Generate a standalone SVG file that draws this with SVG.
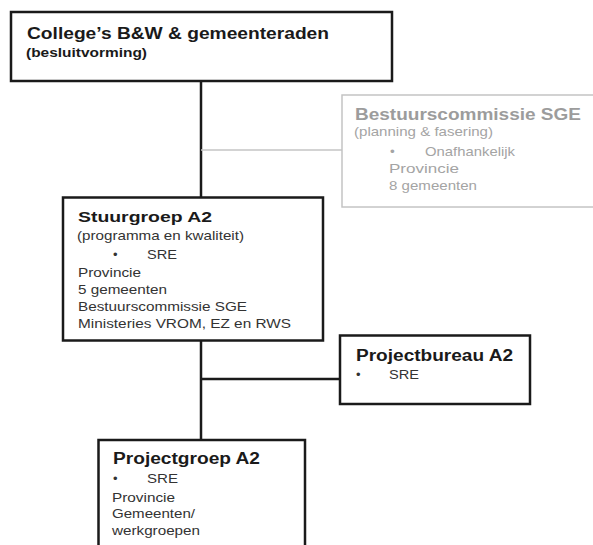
<svg xmlns="http://www.w3.org/2000/svg" width="593" height="545" viewBox="0 0 593 545">
<style>
.box{fill:#fff;stroke:#1a1a1a;stroke-width:2.5}
.gbox{fill:#fff;stroke:#c4c4c4;stroke-width:1.5}
.ln{stroke:#1a1a1a;stroke-width:2.5;fill:none}
.gln{stroke:#c4c4c4;stroke-width:1.5;fill:none}
text{font-family:"Liberation Sans",Arial,sans-serif}
.t{font-weight:bold;fill:#1a1a1a}
.b{fill:#333}
.gt{font-weight:bold;fill:#9c9c9c}
.g{fill:#a4a4a4}
</style>
<rect width="593" height="545" fill="#fff"/>
<g id="connectors">
<line class="ln" x1="201" y1="81" x2="201" y2="198"/>
<line class="gln" x1="201" y1="150" x2="342" y2="150"/>
<line class="ln" x1="201" y1="341" x2="201" y2="440"/>
<line class="ln" x1="201" y1="379" x2="340" y2="379"/>
</g>
<g id="college">
<rect class="box" x="11" y="12" width="381" height="69"/>
<text class="t" x="27" y="38.5" font-size="17" textLength="302" lengthAdjust="spacingAndGlyphs">College’s B&amp;W &amp; gemeenteraden</text>
<text class="t" x="26" y="56.5" font-size="12" textLength="121" lengthAdjust="spacingAndGlyphs">(besluitvorming)</text>
</g>
<g id="bestuurscommissie">
<rect class="gbox" x="342" y="95" width="260" height="112"/>
<text class="gt" x="355" y="120" font-size="17" textLength="226" lengthAdjust="spacingAndGlyphs">Bestuurscommissie SGE</text>
<text class="g" x="354" y="136" font-size="13.5" textLength="139" lengthAdjust="spacingAndGlyphs">(planning &amp; fasering)</text>
<text class="g" x="390" y="155.5" font-size="13.5">•</text>
<text class="g" x="425" y="155.5" font-size="13.5" textLength="90" lengthAdjust="spacingAndGlyphs">Onafhankelijk</text>
<text class="g" x="389" y="173" font-size="13.5" textLength="70" lengthAdjust="spacingAndGlyphs">Provincie</text>
<text class="g" x="389" y="190" font-size="13.5" textLength="88" lengthAdjust="spacingAndGlyphs">8 gemeenten</text>
</g>
<g id="stuurgroep">
<rect class="box" x="63" y="197.5" width="260" height="143"/>
<text class="t" x="78" y="222.3" font-size="15.5" textLength="134" lengthAdjust="spacingAndGlyphs">Stuurgroep A2</text>
<text class="b" x="77" y="240" font-size="13" textLength="167" lengthAdjust="spacingAndGlyphs">(programma en kwaliteit)</text>
<text class="b" x="113" y="259" font-size="13">•</text>
<text class="b" x="147" y="259" font-size="13" textLength="30" lengthAdjust="spacingAndGlyphs">SRE</text>
<text class="b" x="78" y="277" font-size="13" textLength="63" lengthAdjust="spacingAndGlyphs">Provincie</text>
<text class="b" x="78" y="294" font-size="13" textLength="89" lengthAdjust="spacingAndGlyphs">5 gemeenten</text>
<text class="b" x="78" y="311" font-size="13" textLength="169" lengthAdjust="spacingAndGlyphs">Bestuurscommissie SGE</text>
<text class="b" x="78" y="328" font-size="13" textLength="213" lengthAdjust="spacingAndGlyphs">Ministeries VROM, EZ en RWS</text>
</g>
<g id="projectbureau">
<rect class="box" x="340" y="335.5" width="190" height="68.5"/>
<text class="t" x="356" y="360.7" font-size="16" textLength="157" lengthAdjust="spacingAndGlyphs">Projectbureau A2</text>
<text class="b" x="356" y="379" font-size="13">•</text>
<text class="b" x="389" y="379" font-size="13" textLength="30" lengthAdjust="spacingAndGlyphs">SRE</text>
</g>
<g id="projectgroep">
<rect class="box" x="98.5" y="440" width="206.5" height="120"/>
<text class="t" x="113" y="463.5" font-size="16" textLength="147" lengthAdjust="spacingAndGlyphs">Projectgroep A2</text>
<text class="b" x="113" y="483" font-size="13">•</text>
<text class="b" x="147" y="483" font-size="13" textLength="31" lengthAdjust="spacingAndGlyphs">SRE</text>
<text class="b" x="112" y="501.5" font-size="13" textLength="63" lengthAdjust="spacingAndGlyphs">Provincie</text>
<text class="b" x="112" y="518" font-size="13" textLength="83" lengthAdjust="spacingAndGlyphs">Gemeenten/</text>
<text class="b" x="112" y="535" font-size="13" textLength="88" lengthAdjust="spacingAndGlyphs">werkgroepen</text>
</g>
</svg>
